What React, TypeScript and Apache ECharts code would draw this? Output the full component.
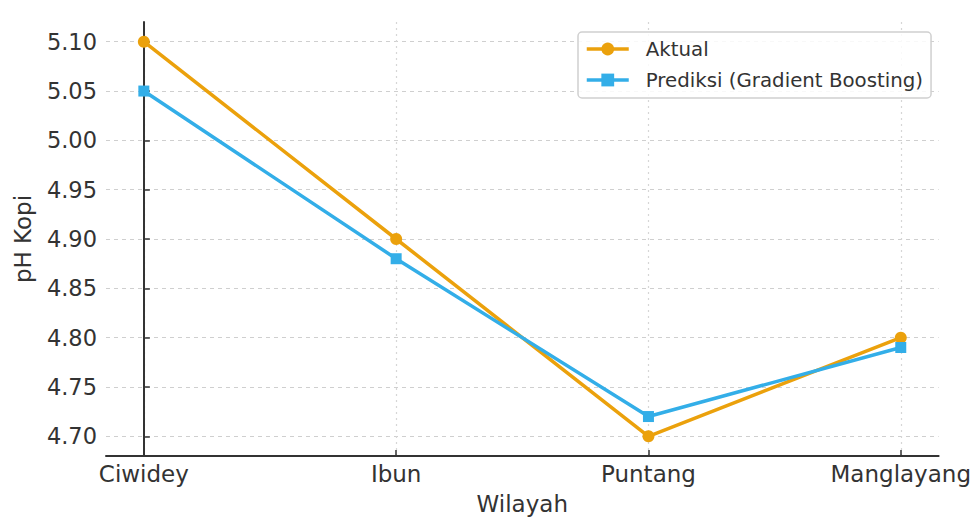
import React, { useEffect, useRef } from "react";
import * as echarts from "echarts";

const categories = ["Ciwidey", "Ibun", "Puntang", "Manglayang"];
const aktual = [5.1, 4.9, 4.7, 4.8];
const prediksi = [5.05, 4.88, 4.72, 4.79];
const yTicks = [4.7, 4.75, 4.8, 4.85, 4.9, 4.95, 5.0, 5.05, 5.1];
const xTicks = [0, 1, 2, 3];

const FONT = "DejaVu Sans";

export default function App() {
  const ref = useRef<HTMLDivElement>(null);
  useEffect(() => {
    if (!ref.current) return;
    const chart = echarts.init(ref.current, undefined, { renderer: "svg" });
    const axisColor = "#333333";
    const gridLine = { show: true, lineStyle: { color: "#cfcfcf", type: [4, 4] as any, width: 1.2 } };
    chart.setOption({
      animation: false,
      backgroundColor: "#ffffff",
      grid: { left: 106, right: 33, top: 22, bottom: 72 },
      legend: {
        left: 578,
        top: 32,
        orient: "vertical",
        padding: [7, 8, 8, 7],
        itemWidth: 42,
        itemHeight: 16,
        itemGap: 11,
        borderColor: "#d0d0d0",
        borderWidth: 1.5,
        borderRadius: 4,
        backgroundColor: "rgba(255,255,255,0.85)",
        lineStyle: { width: 3.5 },
        textStyle: { fontFamily: FONT, fontSize: 19.8, color: "#333", lineHeight: 20, padding: [0, 0, 0, 12] },
        data: ["Aktual", "Prediksi (Gradient Boosting)"],
      },
      xAxis: {
        type: "value",
        min: -0.15,
        max: 3.15,
        name: "Wilayah",
        nameLocation: "middle",
        nameGap: 36,
        nameTextStyle: { fontFamily: FONT, fontSize: 23, color: "#333" },
        axisLine: { show: true, lineStyle: { color: axisColor, width: 2 } },
        axisTick: { show: true, inside: true, length: 6, customValues: xTicks, lineStyle: { color: axisColor, width: 1.5 } },
        axisLabel: {
          customValues: xTicks,
          margin: 6,
          fontFamily: FONT,
          fontSize: 23,
          color: "#333",
          formatter: (v: number) => categories[Math.round(v)] ?? "",
        },
        splitLine: { show: true, lineStyle: { color: "#d6d6d6", type: [2, 4] as any, width: 1.2 } },
      },
      yAxis: {
        type: "value",
        min: 4.68,
        max: 5.12,
        name: "pH Kopi",
        nameLocation: "middle",
        nameGap: 72,
        nameTextStyle: { fontFamily: FONT, fontSize: 23, color: "#333" },
        axisLine: { show: true, lineStyle: { color: axisColor, width: 2 } },
        axisTick: { show: true, inside: true, length: 6, customValues: yTicks, lineStyle: { color: axisColor, width: 1.5 } },
        axisLabel: {
          customValues: yTicks,
          margin: 9,
          fontFamily: FONT,
          fontSize: 22.5,
          color: "#333",
          formatter: (v: number) => v.toFixed(2),
        },
        splitLine: gridLine,
      },
      series: [
        {
          name: "Aktual",
          type: "line",
          data: aktual.map((v, i) => [i, v]),
          symbol: "circle",
          symbolSize: 12,
          lineStyle: { color: "#EBA10C", width: 3.5 },
          itemStyle: { color: "#EBA10C" },
          z: 2,
        },
        {
          name: "Prediksi (Gradient Boosting)",
          type: "line",
          data: prediksi.map((v, i) => [i, v]),
          symbol: "rect",
          symbolSize: 11,
          lineStyle: { color: "#33AEE8", width: 3.5 },
          itemStyle: { color: "#33AEE8" },
          z: 3,
        },
      ],
    });
    return () => chart.dispose();
  }, []);
  return (
    <div
      ref={ref}
      style={{ position: "fixed", left: 0, top: 0, width: 974, height: 528, background: "#fff" }}
    />
  );
}
